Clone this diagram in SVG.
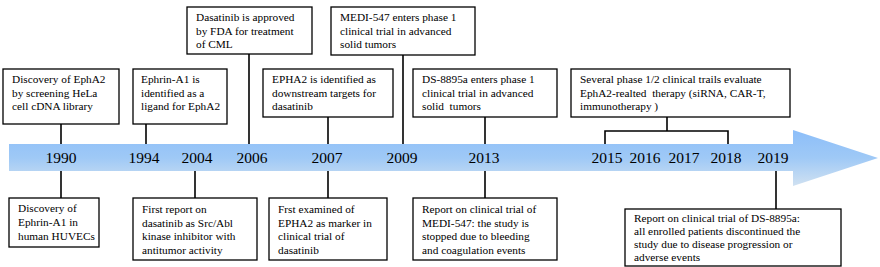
<svg xmlns="http://www.w3.org/2000/svg" width="880" height="267" viewBox="0 0 880 267">
<defs>
<linearGradient id="ag" x1="0" y1="0" x2="0" y2="1">
<stop offset="0" stop-color="#8cbef9"/>
<stop offset="0.5" stop-color="#9fc9f6"/>
<stop offset="1" stop-color="#d0e1f1"/>
</linearGradient>
<style>
.box{fill:#fff;stroke:#000;stroke-width:1.3}
.ln{stroke:#000;stroke-width:1.6;fill:none}
.t{font-family:'Liberation Serif',serif;font-size:11.3px;fill:#000}
.y{font-family:'Liberation Serif',serif;font-size:15.5px;fill:#000;text-anchor:middle}
</style>
</defs>
<rect width="880" height="267" fill="#fff"/>
<path id="arrow" d="M9,144 H793 V130 L878,158 L793,186 V171 H9 Z" fill="url(#ag)"/>
<g id="connectors">
<line class="ln" x1="61" y1="124" x2="61" y2="144"/>
<line class="ln" x1="146" y1="124" x2="146" y2="144"/>
<line class="ln" x1="249" y1="54" x2="249" y2="144"/>
<line class="ln" x1="328" y1="117" x2="328" y2="144"/>
<line class="ln" x1="403" y1="55" x2="403" y2="144"/>
<line class="ln" x1="485" y1="117" x2="485" y2="144"/>
<line class="ln" x1="667" y1="117" x2="667" y2="131"/>
<path class="ln" d="M605,144 V131 H728 V144"/>
<line class="ln" x1="61" y1="171" x2="61" y2="198"/>
<line class="ln" x1="195" y1="171" x2="195" y2="198"/>
<line class="ln" x1="328" y1="171" x2="328" y2="198"/>
<line class="ln" x1="485" y1="171" x2="485" y2="198"/>
<line class="ln" x1="776" y1="171" x2="776" y2="209"/>
</g>
<g id="years">
<text class="y" x="61" y="163">1990</text>
<text class="y" x="144" y="163">1994</text>
<text class="y" x="197" y="163">2004</text>
<text class="y" x="252" y="163">2006</text>
<text class="y" x="327" y="163">2007</text>
<text class="y" x="402" y="163">2009</text>
<text class="y" x="484" y="163">2013</text>
<text class="y" x="607" y="163">2015</text>
<text class="y" x="645" y="163">2016</text>
<text class="y" x="684" y="163">2017</text>
<text class="y" x="726" y="163">2018</text>
<text class="y" x="773" y="163">2019</text>
</g>
<g id="n1">
<rect class="box" x="3" y="69" width="116" height="55"/>
<text class="t" x="12" y="83">Discovery of EphA2</text>
<text class="t" x="12" y="97">by screening HeLa</text>
<text class="t" x="12" y="110">cell cDNA library</text>
</g>
<g id="n2">
<rect class="box" x="133" y="69" width="94" height="55"/>
<text class="t" x="141" y="83">Ephrin-A1 is</text>
<text class="t" x="141" y="97">identified as a</text>
<text class="t" x="141" y="110">ligand for EphA2</text>
</g>
<g id="n3">
<rect class="box" x="187" y="7" width="125" height="47"/>
<text class="t" x="196" y="21">Dasatinib is approved</text>
<text class="t" x="196" y="34.5">by FDA for treatment</text>
<text class="t" x="196" y="48">of CML</text>
</g>
<g id="n4">
<rect class="box" x="263" y="69" width="130" height="48"/>
<text class="t" x="272" y="83">EPHA2 is identified as</text>
<text class="t" x="272" y="97">downstream targets for</text>
<text class="t" x="272" y="110">dasatinib</text>
</g>
<g id="n5">
<rect class="box" x="331" y="7" width="144" height="48"/>
<text class="t" x="340" y="21">MEDI-547 enters phase 1</text>
<text class="t" x="340" y="34.5">clinical trial in advanced</text>
<text class="t" x="340" y="48">solid tumors</text>
</g>
<g id="n6">
<rect class="box" x="413" y="69" width="144" height="48"/>
<text class="t" x="422" y="83">DS-8895a enters phase 1</text>
<text class="t" x="422" y="97">clinical trial in advanced</text>
<text class="t" x="422" y="110">solid &#160;tumors</text>
</g>
<g id="n7">
<rect class="box" x="571" y="69" width="219" height="48"/>
<text class="t" x="580" y="83">Several phase 1/2 clinical trails evaluate</text>
<text class="t" x="580" y="97">EphA2-realted &#160;therapy (siRNA, CAR-T,</text>
<text class="t" x="580" y="110">immunotherapy )</text>
</g>
<g id="b1">
<rect class="box" x="9" y="198" width="90" height="49"/>
<text class="t" x="18" y="212">Discovery of</text>
<text class="t" x="18" y="226">Ephrin-A1 in</text>
<text class="t" x="18" y="240">human HUVECs</text>
</g>
<g id="b2">
<rect class="box" x="133" y="198" width="124" height="62"/>
<text class="t" x="142" y="213">First report on</text>
<text class="t" x="142" y="227">dasatinib as Src/Abl</text>
<text class="t" x="142" y="240">kinase inhibitor with</text>
<text class="t" x="142" y="254">antitumor activity</text>
</g>
<g id="b3">
<rect class="box" x="269" y="198" width="118" height="62"/>
<text class="t" x="278" y="213">Frst examined of</text>
<text class="t" x="278" y="227">EPHA2 as marker in</text>
<text class="t" x="278" y="240">clinical trial of</text>
<text class="t" x="278" y="254">dasatinib</text>
</g>
<g id="b4">
<rect class="box" x="413" y="198" width="144" height="62"/>
<text class="t" x="422" y="213">Report on clinical trial of</text>
<text class="t" x="422" y="227">MEDI-547: the study is</text>
<text class="t" x="422" y="240">stopped due to bleeding</text>
<text class="t" x="422" y="254">and coagulation events</text>
</g>
<g id="b5">
<rect class="box" x="625" y="209" width="216" height="57"/>
<text class="t" x="634" y="222">Report on clinical trial of DS-8895a:</text>
<text class="t" x="634" y="235">all enrolled patients discontinued the</text>
<text class="t" x="634" y="248">study due to disease progression or</text>
<text class="t" x="634" y="261">adverse events</text>
</g>
</svg>
